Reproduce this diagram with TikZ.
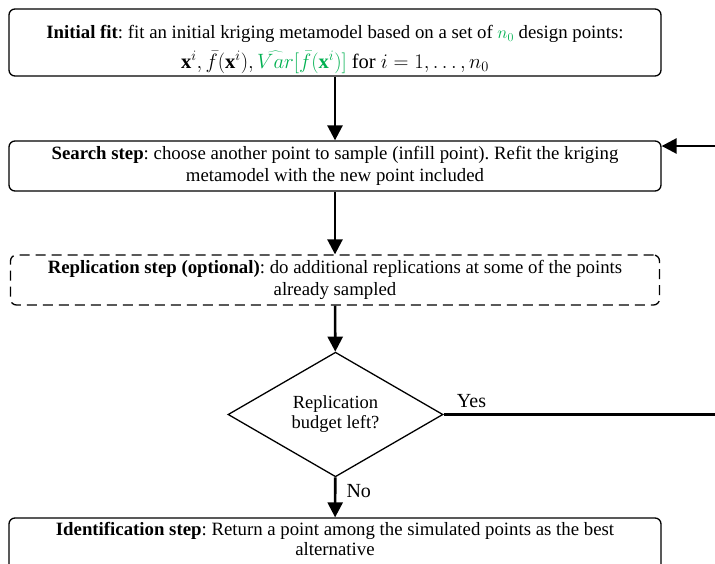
\documentclass[tikz,border=0pt]{standalone}
\usepackage{fontspec}
\setmainfont{Liberation Serif}
\usetikzlibrary{shapes.geometric,arrows.meta,calc}
\definecolor{wgreen}{RGB}{0,176,80}
\frenchspacing
\begin{document}
\begin{tikzpicture}[x=1pt,y=-1pt,
  box/.style={draw, line width=1.3pt, rounded corners=6pt, align=center,
    font=\fontsize{18.8}{22}\selectfont\frenchspacing, inner sep=0pt},
  conn/.style={line width=2.6pt, -{Triangle[width=15pt,length=15pt]}},
  lbl/.style={font=\fontsize{20}{22}\selectfont, inner sep=0pt}]
\useasboundingbox (0,0) rectangle (715,563);
\clip (0,0) rectangle (715,563);
\node[box, minimum width=652, minimum height=67] (init) at (335,42.5)
  {\rule{0pt}{27pt}\textbf{Initial fit}: fit an initial kriging metamodel based on a set of {\color{wgreen}$n_0$} design points:\\[8pt]
   {\fontsize{20.5}{24}\selectfont$\mathbf{x}^i, \bar{f}\big(\mathbf{x}^i\big), {\color{wgreen}\widehat{Var}\big[\bar{f}\big(\mathbf{x}^i\big)\big]}$ for $i = 1, \ldots, n_0$}};
\node[box, minimum width=652, minimum height=50] (search) at (335,166)
  {\textbf{Search step}: choose another point to sample (infill point). Refit the kriging\\metamodel with the new point included};
\node[box, dashed, dash pattern=on 10pt off 6pt, minimum width=649, minimum height=50] (repl) at (335,280)
  {\textbf{Replication step (optional)}: do additional replications at some of the points\\already sampled};
\node[draw, diamond, line width=1.3pt, inner sep=0pt, minimum width=215, minimum height=105,
  align=center, font=\fontsize{18.5}{20}\selectfont] (dec) at (335.5,414.5)
  {Replication\\budget left?};
\node[box, font=\fontsize{18.8}{20}\selectfont\frenchspacing, minimum width=652, minimum height=54] (ident) at (335,545)
  {\textbf{Identification step}: Return a point among the simulated points as the best\\alternative\rule[-12pt]{0pt}{1pt}};
\coordinate (loopA) at (722,414.5);
\coordinate (loopB) at (722,146);
\draw[conn] (init) -- (search);
\draw[conn] (search) -- (repl);
\draw[conn] (repl) -- (dec);
\draw[conn] (dec) -- node[lbl, right=10pt, pos=0.35] (no) {No} (ident);
\draw[conn] (dec.east) -- node[lbl, above=6pt, pos=0.1] (yes) {Yes} (loopA) -- (loopB) -- (search.east |- loopB);
\end{tikzpicture}
\end{document}
